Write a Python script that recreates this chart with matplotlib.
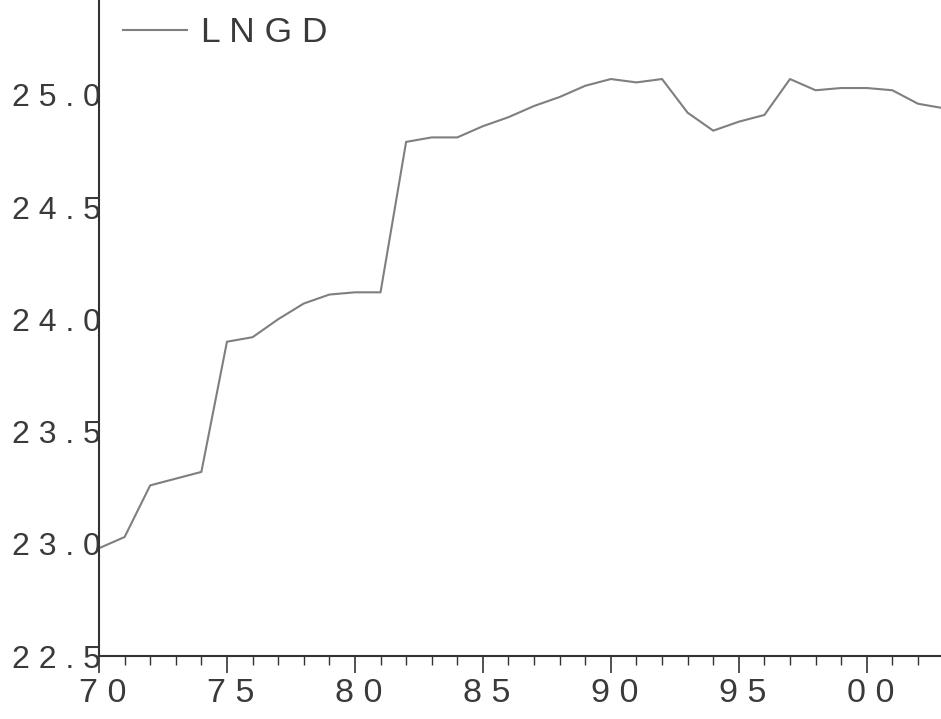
import matplotlib
matplotlib.use("Agg")
import matplotlib.pyplot as plt
import matplotlib.transforms as mtransforms
from matplotlib.ticker import MultipleLocator, FixedLocator

years = list(range(1970, 2004))
lngd = [22.98, 23.03, 23.26, 23.29, 23.32, 23.90, 23.92, 24.00, 24.07, 24.11,
        24.12, 24.12, 24.79, 24.81, 24.81, 24.86, 24.90, 24.95, 24.99, 25.04,
        25.07, 25.055, 25.07, 24.92, 24.84, 24.88, 24.91, 25.07, 25.02, 25.03,
        25.03, 25.02, 24.96, 24.94]
y_ticks = [22.5, 23.0, 23.5, 24.0, 24.5, 25.0]
y_labels = ["2 2 . 5", "2 3 . 0", "2 3 . 5", "2 4 . 0", "2 4 . 5", "2 5 . 0"]
x_ticks = [1970, 1975, 1980, 1985, 1990, 1995, 2000]
x_labels = ["7 0", "7 5", "8 0", "8 5", "9 0", "9 5", "0 0"]
series_label = "L N G D"

plt.rcParams['font.family'] = ['Liberation Sans', 'DejaVu Sans']
txt = '#3a3a3a'
fig = plt.figure(figsize=(9.41, 7.19), dpi=100)
ax = fig.add_axes([99/941, 63/719, 842/941, 656/719])
ax.plot(years, lngd, color='#7f7f7f', lw=1.5, label=series_label)

ax.set_xlim(1970, 2002.9)
ax.set_ylim(22.5, 22.5 + 656/224.5)

for s in ['top', 'right']:
    ax.spines[s].set_visible(False)
for s in ['left', 'bottom']:
    ax.spines[s].set_color('#333333')
    ax.spines[s].set_linewidth(1.5)

ax.yaxis.set_major_locator(FixedLocator(y_ticks))
ax.set_yticklabels(y_labels)
ax.tick_params(axis='y', length=0, pad=-1.5, labelsize=23, labelcolor=txt)

ax.xaxis.set_major_locator(FixedLocator(x_ticks))
ax.set_xticklabels(x_labels)
ax.xaxis.set_minor_locator(MultipleLocator(1))
ax.tick_params(axis='x', which='major', direction='out', length=12.5, width=1.2,
               color='#333333', pad=3.5, labelsize=24.5, labelcolor=txt)
ax.tick_params(axis='x', which='minor', direction='out', length=6.5, width=1.0,
               color='#333333')
shift = mtransforms.ScaledTranslation(4/100, 0, fig.dpi_scale_trans)
for lab in ax.get_xticklabels():
    lab.set_transform(lab.get_transform() + shift)

leg = ax.legend(loc='upper left', bbox_to_anchor=(24/842, 1 - 16/656), frameon=False,
                fontsize=25.5, handlelength=1.82, handletextpad=0.38,
                labelcolor=txt, borderaxespad=0, borderpad=0)

fig.savefig("out.png", dpi=100, facecolor='white')
